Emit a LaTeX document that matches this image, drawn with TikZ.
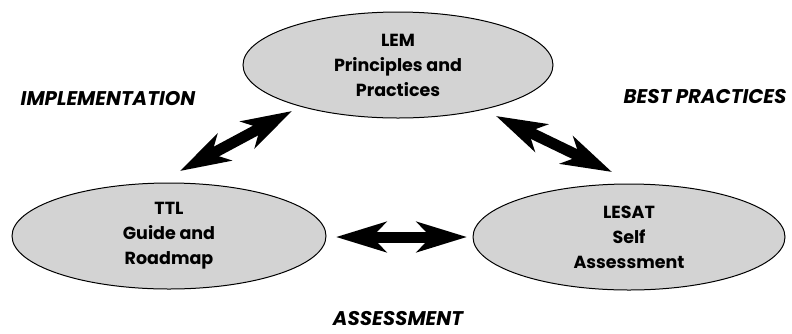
\documentclass[tikz,border=0pt]{standalone}
\usepackage{fontspec}
\setmainfont{Poppins}[BoldFont={* Bold},BoldItalicFont={* Bold Italic}]
\usetikzlibrary{arrows.meta,shapes.geometric}
\definecolor{ellfill}{HTML}{D3D3D3}
\tikzset{
  bubble/.style={ellipse, draw=black, line width=1pt, fill=ellfill, minimum width=#1, minimum height=106pt, inner sep=0pt, align=center, font=\fontsize{17.5}{25}\selectfont\bfseries},
  topic/.style={font=\fontsize{19.8}{22}\selectfont\bfseries\itshape, inner sep=0pt, anchor=base},
  bigarrow/.style={line width=11pt, {Stealth[length=50pt,width=30pt,inset=14pt]}-{Stealth[length=50pt,width=30pt,inset=14pt]}}
}
\begin{document}
\begin{tikzpicture}[x=1pt,y=-1pt]
\useasboundingbox (0,0) rectangle (792,333);
\node[bubble=310pt] (lem) at (398,65) {LEM\\Principles and\\Practices};
\node[bubble=314pt] (ttl) at (169,236) {TTL\\Guide and\\Roadmap};
\node[bubble=312pt] (lesat) at (629,237) {LESAT\\Self\\Assessment};
\node[topic] (impl) at (108,105) {IMPLEMENTATION};
\node[topic] (best) at (705,103) {BEST PRACTICES};
\node[topic] (assess) at (398,325.5) {ASSESSMENT};
\coordinate (a1) at (180,171);
\coordinate (a2) at (292,111);
\coordinate (b1) at (496,116);
\coordinate (b2) at (612,172);
\coordinate (c1) at (336,237);
\coordinate (c2) at (467,237);
\draw[bigarrow] (a1) -- (a2);
\draw[bigarrow] (b1) -- (b2);
\draw[bigarrow] (c1) -- (c2);
\end{tikzpicture}
\end{document}
